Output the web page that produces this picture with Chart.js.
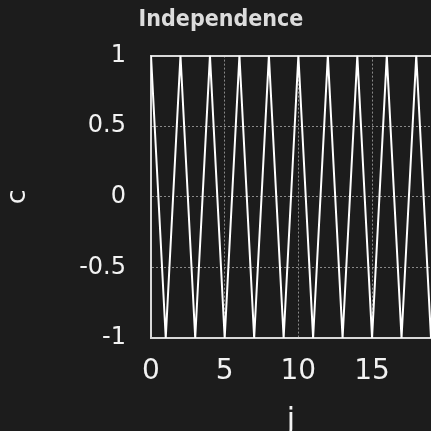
<!DOCTYPE html>
<html>
<head>
<meta charset="utf-8">
<script src="https://cdn.jsdelivr.net/npm/chart.js@4"></script>
<style>
  html, body { margin: 0; padding: 0; background: #1c1c1c; overflow: hidden; }
  #wrap { position: relative; width: 431px; height: 450px; }
</style>
</head>
<body>
<div id="wrap"><canvas id="chart"></canvas></div>
<script>
// Correlation c at lag j: alternates between +1 and -1
const lags = [0, 1, 2, 3, 4, 5, 6, 7, 8, 9, 10, 11, 12, 13, 14, 15, 16, 17, 18, 19];
const corr = [1, -1, 1, -1, 1, -1, 1, -1, 1, -1, 1, -1, 1, -1, 1, -1, 1, -1, 1, -1];
const xTicks = [0, 5, 10, 15];
const xTickLabels = ['0', '5', '10', '15'];
const yTicks = [-1, -0.5, 0, 0.5, 1];
const yTickLabels = ['-1', '-0.5', '0', '0.5', '1'];

const TEXT = '#f2f2f2';
const FRAME = '#d9d9d9';
const GRID = 'rgba(165,165,165,0.8)';

new Chart(document.getElementById('chart'), {
  type: 'line',
  data: {
    datasets: [{
      data: lags.map((j, i) => ({ x: j, y: corr[i] })),
      borderColor: '#ffffff',
      borderWidth: 2,
      pointRadius: 0,
      tension: 0,
      fill: false
    }]
  },
  options: {
    responsive: true,
    maintainAspectRatio: false,
    animation: false,
    layout: { padding: { left: 11, right: 0, top: 0, bottom: 0 } },
    plugins: {
      legend: { display: false },
      tooltip: { enabled: false },
      title: {
        display: true,
        text: 'Independence',
        color: '#dcdcdc',
        font: { family: "'DejaVu Sans Condensed', 'DejaVu Sans', sans-serif", size: 23, weight: 'bold', lineHeight: 1.2 },
        padding: { top: 6, bottom: 22 }
      }
    },
    scales: {
      x: {
        type: 'linear',
        position: 'bottom',
        min: 0,
        max: 19,
        afterBuildTicks: s => { s.ticks = xTicks.map(v => ({ value: v })); },
        afterFit: s => { s.height = 112; },
        ticks: {
          color: TEXT,
          font: { family: "'DejaVu Sans', sans-serif", size: 28 },
          padding: 17,
          maxRotation: 0,
          autoSkip: false,
          callback: (v) => xTickLabels[xTicks.indexOf(v)]
        },
        grid: { color: GRID, lineWidth: 1, drawTicks: false, tickLength: 0 },
        border: { display: true, color: FRAME, width: 2, dash: [2, 2] },
        title: {
          display: true,
          text: 'j',
          color: TEXT,
          font: { family: "'DejaVu Sans', sans-serif", size: 30 },
          padding: { top: 0, bottom: 11 }
        }
      },
      xTop: {
        type: 'linear',
        position: 'top',
        min: 0,
        max: 19,
        ticks: { display: false },
        grid: { display: false, drawTicks: false },
        border: { display: true, color: FRAME, width: 2 }
      },
      y: {
        type: 'linear',
        position: 'left',
        min: -1,
        max: 1,
        afterBuildTicks: s => { s.ticks = yTicks.map(v => ({ value: v })); },
        afterFit: s => { s.width = 140; },
        ticks: {
          color: TEXT,
          font: { family: "'DejaVu Sans', sans-serif", size: 24 },
          padding: 25,
          callback: (v) => yTickLabels[yTicks.indexOf(v)]
        },
        grid: { color: GRID, lineWidth: 1, drawTicks: false, tickLength: 0 },
        border: { display: true, color: FRAME, width: 2, dash: [2, 2] },
        title: {
          display: true,
          text: 'c',
          color: TEXT,
          font: { family: "'DejaVu Sans', sans-serif", size: 27 },
          padding: { top: -9, bottom: 0 }
        }
      }
    }
  }
});
</script>
</body>
</html>
